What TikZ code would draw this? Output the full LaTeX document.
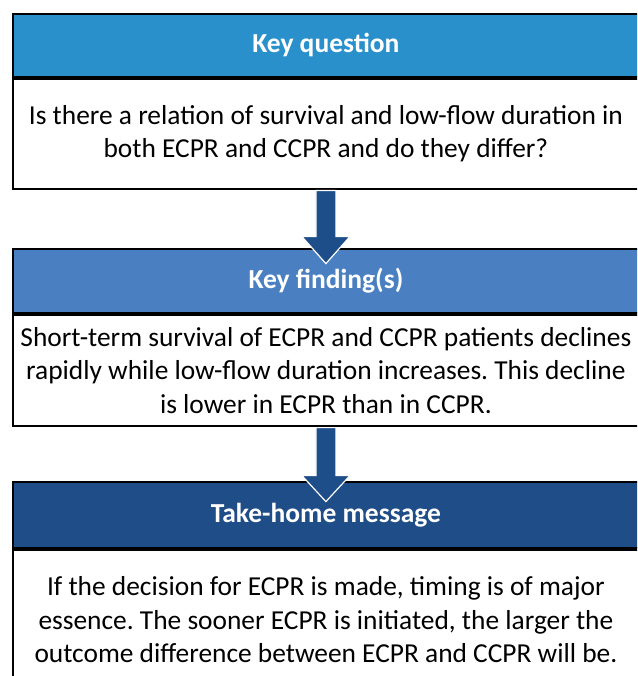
\documentclass[tikz,border=0pt]{standalone}
\usepackage{fontspec}
\setmainfont{Carlito}
\usetikzlibrary{calc}
\definecolor{qblue}{RGB}{42,144,204}
\definecolor{fblue}{RGB}{74,128,194}
\definecolor{mblue}{RGB}{31,77,135}
\definecolor{arrowblue}{RGB}{30,78,138}
\frenchspacing
\tikzset{
  hdr/.style={draw=black, line width=1.8pt, anchor=north west, minimum width=626pt,
    inner sep=0pt, text=white, font=\fontsize{27.5}{33}\selectfont\bfseries},
  bodybox/.style={draw=black, line width=1.8pt, fill=white, anchor=north west,
    minimum width=626pt, inner sep=0pt, align=center,
    font=\fontsize{27.4}{33.5}\selectfont},
  flowarrow/.style={fill=arrowblue, draw=white, line width=1.2pt, line join=miter}
}
\begin{document}
\begin{tikzpicture}[x=1pt,y=-1pt]
\useasboundingbox (0,0) rectangle (637,676);
\clip (0,0) rectangle (637,676);
\fill[white] (0,0) rectangle (637,676);

% box 1
\node[hdr, fill=qblue, minimum height=63pt] (h1) at (12,13) {Key question};
\node[bodybox, minimum height=110pt] (b1) at (h1.south west)
  {Is there a relation of survival and low-flow duration in\\both ECPR and CCPR and do they differ?};

% box 2
\node[hdr, fill=fblue, minimum height=64pt] (h2) at (12,248) {Key finding(s)};
\node[bodybox, minimum height=111pt] (b2) at (h2.south west)
  {Short-term survival of ECPR and CCPR patients declines\\rapidly while low-flow duration increases. This decline\\is lower in ECPR than in CCPR.};

% box 3
\node[hdr, fill=mblue, minimum height=66pt] (h3) at (12,481) {Take-home message};
\node[bodybox, minimum height=140pt] (b3) at (h3.south west)
  {If the decision for ECPR is made, timing is of major\\essence. The sooner ECPR is initiated, the larger the\\outcome difference between ECPR and CCPR will be.};

% block arrows between the boxes
\filldraw[flowarrow] ($(b1.south)+(-10,1)$) -- ++(0,46) -- ++(-14,0)
  -- ($(b1.south)+(0,74)$) -- ($(b1.south)+(24,47)$) -- ++(-14,0) -- ($(b1.south)+(10,1)$) -- cycle;
\filldraw[flowarrow] ($(b2.south)+(-10,1)$) -- ++(0,48) -- ++(-14,0)
  -- ($(b2.south)+(0,75)$) -- ($(b2.south)+(24,49)$) -- ++(-14,0) -- ($(b2.south)+(10,1)$) -- cycle;
\end{tikzpicture}
\end{document}
